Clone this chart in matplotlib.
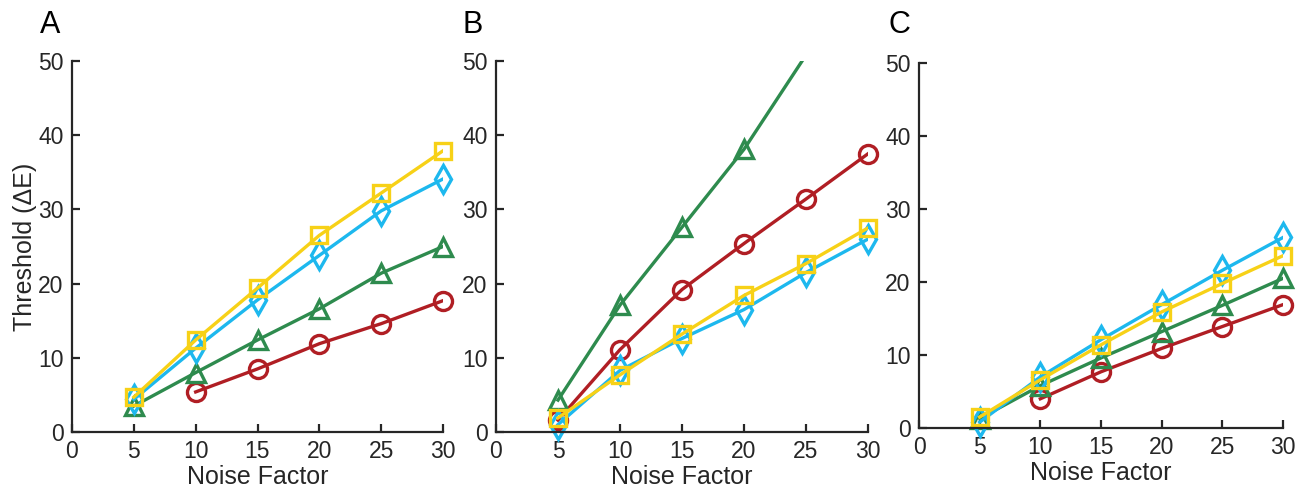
import matplotlib
matplotlib.use("Agg")
import matplotlib.pyplot as plt
import numpy as np

plt.rcParams['font.family'] = ['Liberation Sans', 'DejaVu Sans']

noise = [5, 10, 15, 20, 25, 30]
noise_from10 = [10, 15, 20, 25, 30]

# Panel A
A_red = [5.4, 8.5, 11.9, 14.6, 17.7]
A_green = [3.5, 8.0, 12.4, 16.6, 21.4, 25.0]
A_cyan = [4.4, 11.3, 17.8, 23.8, 29.8, 34.1]
A_yellow = [4.7, 12.4, 19.4, 26.5, 32.2, 37.9]

# Panel B
B_red = [1.6, 11.1, 19.2, 25.4, 31.4, 37.5]
B_green = [4.3, 17.1, 27.6, 38.1, 50.8, 62.0]
B_cyan = [1.0, 8.3, 12.6, 16.5, 21.5, 26.0]
B_yellow = [1.9, 7.7, 13.2, 18.4, 22.7, 27.5]

# Panel C
C_red = [4.0, 7.7, 10.9, 13.9, 16.9]
C_green = [1.3, 5.8, 9.6, 13.2, 16.8, 20.5]
C_cyan = [0.8, 7.0, 12.1, 16.9, 21.6, 26.1]
C_yellow = [1.5, 6.6, 11.4, 15.9, 19.8, 23.6]

panels = ['A', 'B', 'C']
xticks = [0, 5, 10, 15, 20, 25, 30]
yticks = [0, 10, 20, 30, 40, 50]

RED = '#B01E24'
GREEN = '#2E8B4E'
CYAN = '#1DB8EE'
YELLOW = '#F7D117'
AXC = '#262626'

W, H = 1305, 497
fig = plt.figure(figsize=(W / 100, H / 100), dpi=100)

rects = [
    (72, 443, 61, 432),
    (496, 868, 61, 432),
    (919, 1283, 63, 428),
]
data = [
    (A_red, A_green, A_cyan, A_yellow),
    (B_red, B_green, B_cyan, B_yellow),
    (C_red, C_green, C_cyan, C_yellow),
]
letter_x = [40, 462, 888]


def xs_for(ys):
    return noise if len(ys) == len(noise) else noise_from10


for i, ((l, r, t, b), (red, green, cyan, yellow)) in enumerate(zip(rects, data)):
    ax = fig.add_axes([l / W, 1 - b / H, (r - l) / W, (b - t) / H])
    ymax = yticks[-1]
    for ys, c, m, ms in [(red, RED, 'o', 13),
                         (green, GREEN, '^', 13),
                         (cyan, CYAN, 'd', 14),
                         (yellow, YELLOW, 's', 12)]:
        xs = xs_for(ys)
        ax.plot(xs, ys, color=c, lw=2.4, clip_on=True)
        inside = [(x, y) for x, y in zip(xs, ys) if y <= ymax]
        ax.plot([p[0] for p in inside], [p[1] for p in inside], ls='none',
                marker=m, ms=ms, mfc='none', mec=c, mew=2.4, clip_on=False)
    ax.set_xlim(0, 30)
    ax.set_ylim(0, 50)
    ax.set_xticks(xticks)
    ax.set_yticks(yticks)
    for s in ['top', 'right']:
        ax.spines[s].set_visible(False)
    for s in ['left', 'bottom']:
        ax.spines[s].set_color(AXC)
        ax.spines[s].set_linewidth(1.6)
    ax.tick_params(direction='in', length=6, width=1.6, colors=AXC,
                   labelsize=16.5, pad=6)
    ax.set_xlabel('Noise Factor', fontsize=18, color=AXC, labelpad=1)
    if i == 0:
        ax.set_ylabel('Threshold (ΔE)', fontsize=18, color=AXC, labelpad=1)
    fig.text(letter_x[i] / W, 1 - 25 / H, panels[i], fontsize=22,
             ha='left', va='center', color='black')

fig.savefig('out.png', dpi=100, facecolor='white')
